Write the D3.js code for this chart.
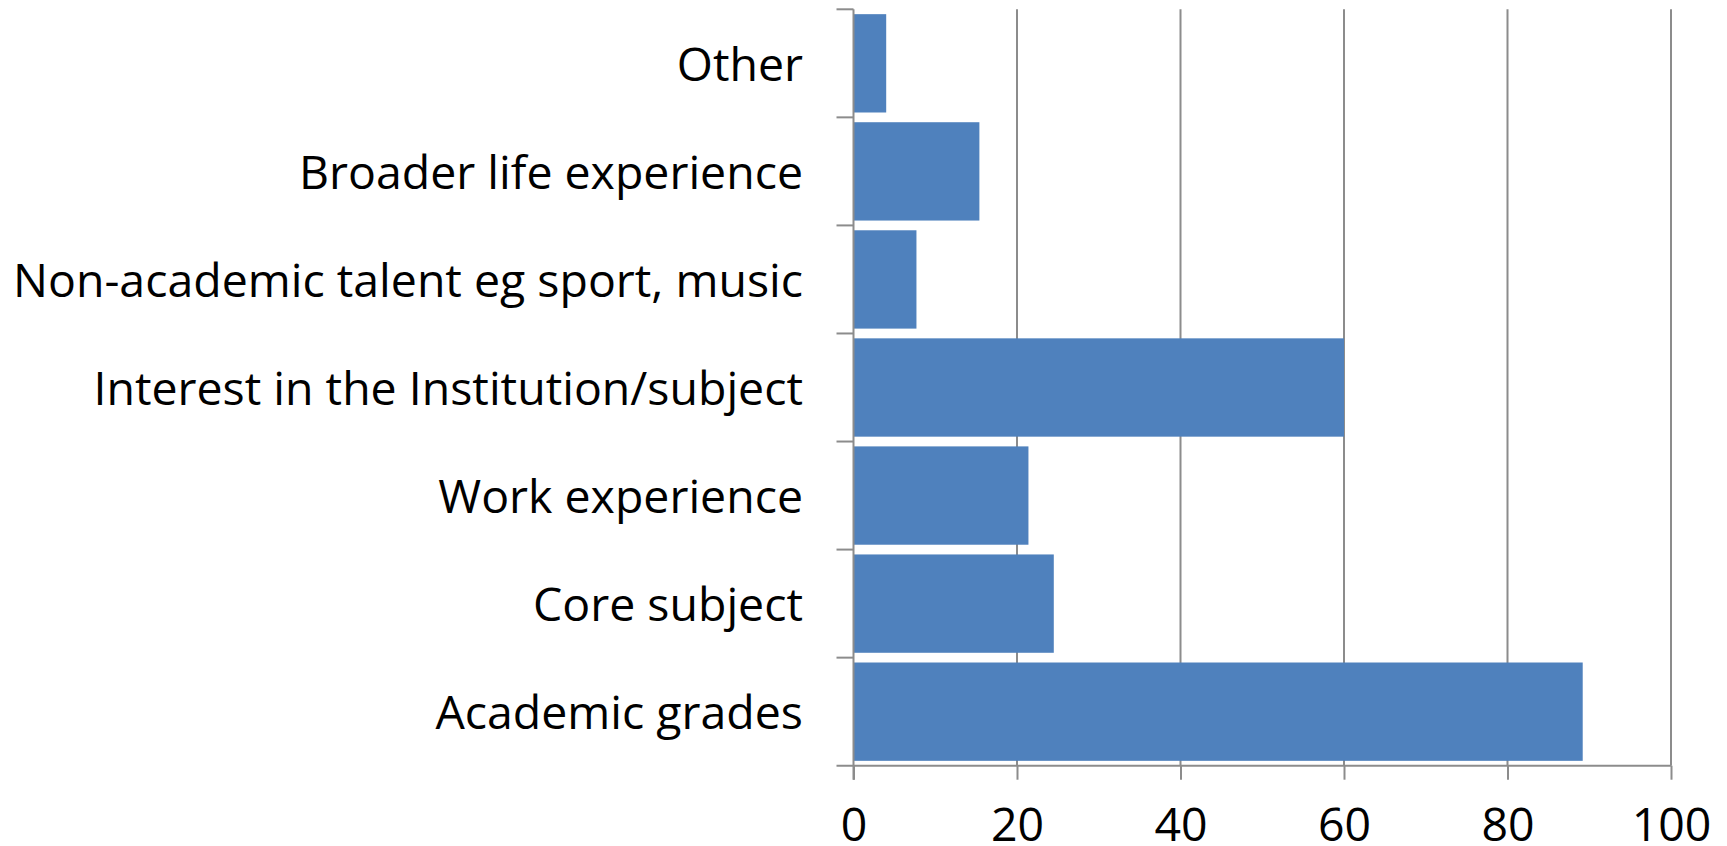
<!DOCTYPE html>
<html>
<head>
<meta charset="utf-8">
<script src="https://cdn.jsdelivr.net/npm/d3@7"></script>
<style>
  body { margin: 0; background: #fff; }
  svg text { font-family: "Open Sans", "Noto Sans", sans-serif; fill: #000; }
</style>
</head>
<body>
<svg id="chart" width="1727" height="846"></svg>
<script>
// categories, top to bottom as drawn
var categories = ["Other", "Broader life experience", "Non-academic talent eg sport, music",
                  "Interest in the Institution/subject", "Work experience", "Core subject", "Academic grades"];
var values = [4.0, 15.4, 7.7, 60.0, 21.4, 24.5, 89.2];
var xTicks = [0, 20, 40, 60, 80, 100];

var svg = d3.select("#chart");
var plotLeft = 853.5, plotRight = 1671, plotTop = 9.3, plotBottom = 765.7;
var barColor = "#4F81BD", gridColor = "#8c8c8c";

var x = d3.scaleLinear().domain([0, 100]).range([plotLeft, plotRight]);
var y = d3.scaleBand().domain(categories).range([plotTop, plotBottom])
    .paddingInner(0.09).paddingOuter(0.045);

// vertical gridlines
svg.append("g").selectAll("line")
    .data(xTicks.slice(1))
    .enter().append("line")
    .attr("x1", d => x(d)).attr("x2", d => x(d))
    .attr("y1", plotTop).attr("y2", plotBottom)
    .attr("stroke", gridColor).attr("stroke-width", 2);

// bars
svg.append("g").selectAll("rect")
    .data(categories)
    .enter().append("rect")
    .attr("x", x(0))
    .attr("y", d => y(d))
    .attr("width", (d, i) => x(values[i]) - x(0))
    .attr("height", y.bandwidth())
    .attr("fill", barColor);

// x axis line + ticks
var xAxis = d3.axisBottom(x).tickValues(xTicks).tickSize(14).tickPadding(29).tickFormat(d3.format("d"));
var gx = svg.append("g").attr("transform", "translate(0," + plotBottom + ")").call(xAxis);
gx.select(".domain").attr("d", "M" + (plotLeft - 17) + ",0H" + plotRight).attr("stroke", gridColor).attr("stroke-width", 2);
gx.selectAll(".tick line").attr("stroke", gridColor).attr("stroke-width", 2);
gx.selectAll(".tick text").attr("font-size", 46).attr("fill", "#000")
    .attr("font-family", "Open Sans, Noto Sans, sans-serif");

// y axis line + category boundary ticks
var yAxis = svg.append("g");
yAxis.append("line")
    .attr("x1", plotLeft).attr("x2", plotLeft).attr("y1", plotTop).attr("y2", plotBottom + 14)
    .attr("stroke", gridColor).attr("stroke-width", 2);
var step = y.step();
var bounds = d3.range(categories.length).map(i => plotTop + i * step);
yAxis.selectAll("line.tk")
    .data(bounds)
    .enter().append("line").attr("class", "tk")
    .attr("x1", plotLeft - 17).attr("x2", plotLeft)
    .attr("y1", d => d).attr("y2", d => d)
    .attr("stroke", gridColor).attr("stroke-width", 2);

// category labels, squeezed sideways to mimic the narrower original face
var labels = svg.append("g").selectAll("text")
    .data(categories)
    .enter().append("text")
    .attr("text-anchor", "end")
    .attr("dominant-baseline", "central")
    .attr("font-size", 46)
    .text(d => d);
var widest = d3.max(labels.nodes(), n => n.getComputedTextLength());
var sx = 790 / widest;
labels.attr("transform", d => "translate(803," + (y(d) + y.bandwidth() / 2) + ") scale(" + sx + ",1)");
gx.selectAll(".tick text").attr("transform", "scale(" + sx + ",1)")
    .attr("x", function() { return 0; });
gx.selectAll(".tick").each(function(d) {
  d3.select(this).select("text").attr("transform", "scale(" + sx + ",1)");
});
</script>
</body>
</html>
